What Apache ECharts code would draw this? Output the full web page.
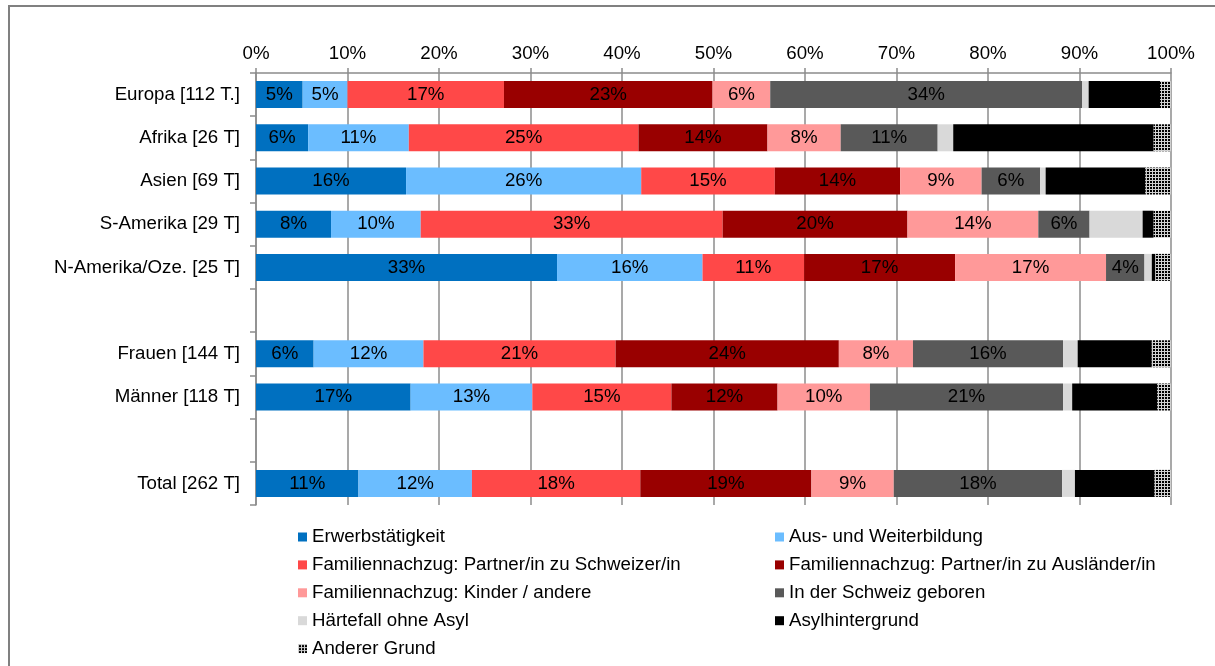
<!DOCTYPE html>
<html>
<head>
<meta charset="utf-8">
<script src="https://cdn.jsdelivr.net/npm/echarts@6/dist/echarts.min.js"></script>
<style>
  html, body { margin: 0; padding: 0; background: #fff; }
  #chart { width: 1215px; height: 666px; }
</style>
</head>
<body>
<div id="chart"></div>
<script>
// Zeilen (zwei leere Zeilen als Abstand)
var categories = ['Europa [112 T.]', 'Afrika [26 T]', 'Asien [69 T]', 'S-Amerika [29 T]', 'N-Amerika/Oze. [25 T]', ' ', 'Frauen [144 T]', 'Männer [118 T]', '  ', 'Total [262 T]'];
var tickLabels = ['0%', '10%', '20%', '30%', '40%', '50%', '60%', '70%', '80%', '90%', '100%'];

var seriesNames = ['Erwerbstätigkeit', 'Aus- und Weiterbildung', 'Familiennachzug: Partner/in zu Schweizer/in', 'Familiennachzug: Partner/in zu Ausländer/in', 'Familiennachzug: Kinder / andere', 'In der Schweiz geboren', 'Härtefall ohne Asyl', 'Asylhintergrund', 'Anderer Grund'];

// Anteile in % pro Grund, Reihenfolge wie categories
var erwerb     = [5.1, 5.7, 16.4, 8.2, 32.9, null, 6.3, 16.9, null, 11.2];
var ausbildung = [4.9, 11.0, 25.7, 9.8, 15.9, null, 12.0, 13.3, null, 12.4];
var famSchweiz = [17.1, 25.1, 14.6, 33.0, 11.1, null, 21.0, 15.2, null, 18.4];
var famAusl    = [22.8, 14.1, 13.7, 20.2, 16.5, null, 24.4, 11.6, null, 18.7];
var famKinder  = [6.3, 8.0, 8.9, 14.3, 16.5, null, 8.1, 10.1, null, 9.0];
var geboren    = [34.1, 10.6, 6.4, 5.6, 4.2, null, 16.4, 21.1, null, 18.4];
var haertefall = [0.7, 1.7, 0.6, 5.8, 0.8, null, 1.6, 1.0, null, 1.4];
var asyl       = [7.8, 21.9, 10.9, 1.2, 0.4, null, 8.1, 9.3, null, 8.7];
var anderer    = [1.2, 1.9, 2.8, 1.9, 1.7, null, 2.1, 1.5, null, 1.8];

var allData = [erwerb, ausbildung, famSchweiz, famAusl, famKinder, geboren, haertefall, asyl, anderer];

var fs = 18.7;
var ff = 'Liberation Sans, Arial, sans-serif';

// Punktmuster fuer "Anderer Grund"
var pat = document.createElement('canvas');
pat.width = 3; pat.height = 3;
var pctx = pat.getContext('2d');
pctx.fillStyle = '#d0d0d0';
pctx.fillRect(0, 0, 3, 3);
pctx.fillStyle = '#000';
pctx.fillRect(1, 1, 2, 2);

var colors = ['#0070C0', '#6BBDFF', '#FF4848', '#990000', '#FF9999', '#595959', '#D9D9D9', '#000000', { image: pat, repeat: 'repeat' }];

var series = [];
for (var i = 0; i < seriesNames.length; i++) {
  series.push({
    name: seriesNames[i],
    type: 'bar',
    stack: 'total',
    barWidth: 27,
    itemStyle: { color: colors[i] },
    label: {
      show: i < 6,
      position: 'inside',
      color: '#000',
      fontSize: fs,
      fontFamily: ff,
      formatter: function (p) { return Math.round(p.value) + '%'; }
    },
    emphasis: { disabled: true },
    data: allData[i]
  });
}

var legendText = { fontSize: fs, color: '#000', fontFamily: ff, lineHeight: 20 };

var myChart = echarts.init(document.getElementById('chart'));
option = {
  animation: false,
  textStyle: { fontFamily: ff },
  graphic: [{
    type: 'rect',
    z: -10,
    shape: { x: 9, y: 6, width: 1240, height: 720 },
    style: { fill: 'none', stroke: '#808080', lineWidth: 2 }
  }],
  grid: { left: 256, right: 44, top: 73, bottom: 161, containLabel: false },
  legend: [{
    orient: 'vertical',
    left: 298, top: 527, padding: 0,
    itemWidth: 9, itemHeight: 9, itemGap: 7.9,
    icon: 'rect',
    textStyle: legendText,
    data: [seriesNames[0], seriesNames[2], seriesNames[4], seriesNames[6], seriesNames[8]]
  }, {
    orient: 'vertical',
    left: 775, top: 527, padding: 0,
    itemWidth: 9, itemHeight: 9, itemGap: 7.9,
    icon: 'rect',
    textStyle: legendText,
    data: [seriesNames[1], seriesNames[3], seriesNames[5], seriesNames[7]]
  }],
  xAxis: {
    type: 'value',
    position: 'top',
    min: 0, max: 100, interval: 10,
    axisLine: { show: true, lineStyle: { color: '#8c8c8c', width: 1.5 } },
    axisTick: { show: true, length: 5, lineStyle: { color: '#8c8c8c', width: 1.5 } },
    splitLine: { show: true, lineStyle: { color: '#8c8c8c', width: 1.5 } },
    axisLabel: {
      fontSize: fs, color: '#000', margin: 10,
      formatter: function (v) { return tickLabels[Math.round(v / 10)]; }
    }
  },
  yAxis: {
    type: 'category',
    inverse: true,
    data: categories,
    axisLine: { show: true, lineStyle: { color: '#8c8c8c', width: 1.5 } },
    axisTick: { show: true, length: 6, lineStyle: { color: '#8c8c8c', width: 1.5 } },
    axisLabel: { fontSize: fs, color: '#000', margin: 16 }
  },
  series: series
};
myChart.setOption(option);
</script>
</body>
</html>
